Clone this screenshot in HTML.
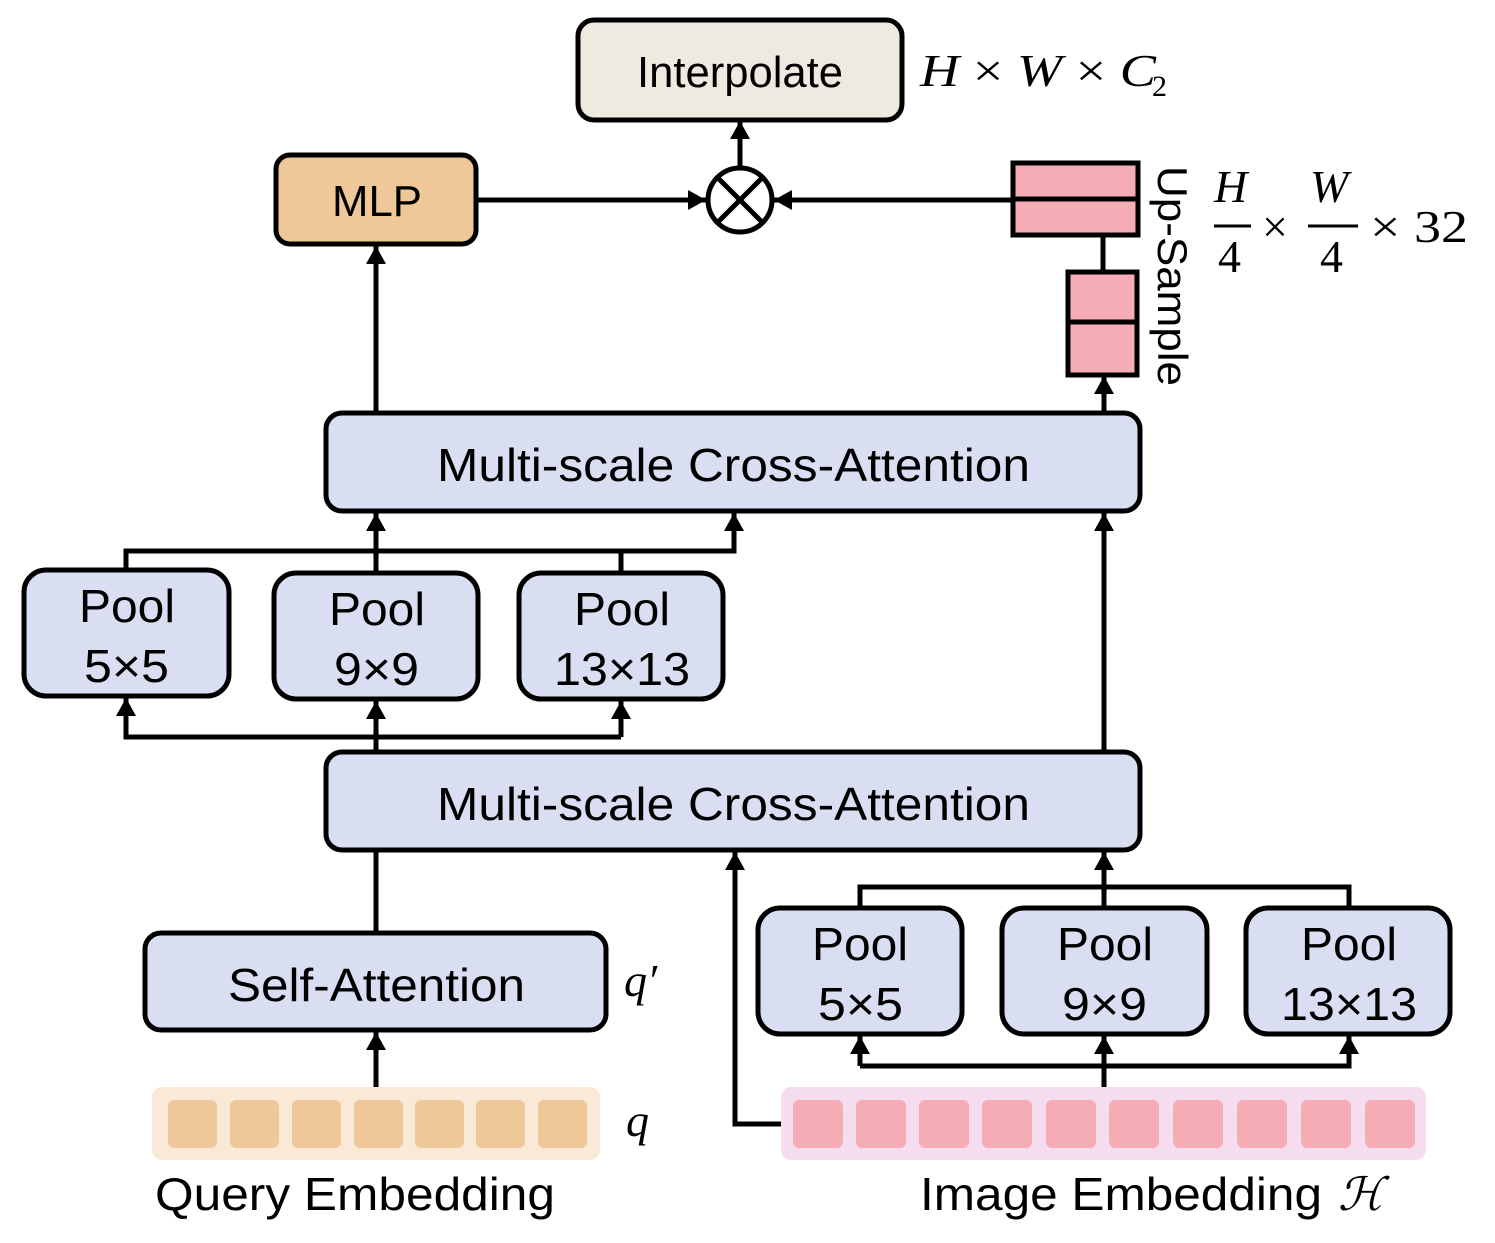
<!DOCTYPE html>
<html><head><style>body{margin:0;background:#fff}</style></head><body>
<svg width="1495" height="1238" viewBox="0 0 1495 1238" xmlns="http://www.w3.org/2000/svg" font-family="Liberation Sans, sans-serif">
<defs>
<marker id="b" viewBox="0 0 10 10" refX="10" refY="5" markerWidth="18" markerHeight="20" markerUnits="userSpaceOnUse" orient="auto" preserveAspectRatio="none"><path d="M0,0L10,5L0,10z" fill="#000"/></marker></defs>
<g stroke="#000" stroke-width="5" fill="none">
<path d="M740,168V121" marker-end="url(#b)"/>
<path d="M476,200H706" marker-end="url(#b)"/>
<path d="M1012,200H774" marker-end="url(#b)"/>
<path d="M1103,235V272"/>
<path d="M1104,413V376" marker-end="url(#b)"/>
<path d="M376,413V246" marker-end="url(#b)"/>
<path d="M126,570V551H734V513" marker-end="url(#b)"/>
<path d="M621,573V551"/>
<path d="M376,573V513" marker-end="url(#b)"/>
<path d="M621,737H126V698" marker-end="url(#b)"/>
<path d="M621,737V701" marker-end="url(#b)"/>
<path d="M376,752V701" marker-end="url(#b)"/>
<path d="M1104,752V513" marker-end="url(#b)"/>
<path d="M860,908V887H1349V908"/>
<path d="M1104,908V852" marker-end="url(#b)"/>
<path d="M860,1066H1349V1036" marker-end="url(#b)"/>
<path d="M860,1066V1036" marker-end="url(#b)"/>
<path d="M1104,1087V1036" marker-end="url(#b)"/>
<path d="M376,850V933"/>
<path d="M376,1087V1032" marker-end="url(#b)"/>
<path d="M781,1124H735V852" marker-end="url(#b)"/>
</g>
<g stroke="#000" stroke-width="5">
<rect x="578" y="20" width="324" height="100" rx="16" fill="#eeeadf"/>
<rect x="276" y="155" width="200" height="89" rx="14" fill="#efc89a"/>
<ellipse cx="740" cy="200" rx="32" ry="32" fill="#fff"/>
<path d="M717,177L763,223M763,177L717,223"/>
<rect x="1013" y="163" width="125" height="72" fill="#f6acb5"/>
<path d="M1013,199H1138"/>
<rect x="1068" y="272" width="69" height="103" fill="#f6acb5"/>
<path d="M1068,322H1137"/>
<rect x="326" y="413" width="814" height="98" rx="16" fill="#d9def2"/>
<rect x="326" y="752" width="814" height="98" rx="16" fill="#d9def2"/>
<rect x="24" y="570" width="205" height="126" rx="22" fill="#d9def2"/>
<rect x="274" y="573" width="204" height="126" rx="22" fill="#d9def2"/>
<rect x="519" y="573" width="204" height="126" rx="22" fill="#d9def2"/>
<rect x="758" y="908" width="204" height="126" rx="22" fill="#d9def2"/>
<rect x="1002" y="908" width="205" height="126" rx="22" fill="#d9def2"/>
<rect x="1246" y="908" width="204" height="126" rx="22" fill="#d9def2"/>
<rect x="145" y="933" width="461" height="97" rx="16" fill="#d9def2"/>
</g>
<rect x="152" y="1087" width="448" height="73" rx="10" fill="#fae9d6"/>
<g fill="#efc89a">
<rect x="168" y="1100" width="49" height="48" rx="6"/><rect x="230" y="1100" width="49" height="48" rx="6"/><rect x="292" y="1100" width="49" height="48" rx="6"/><rect x="354" y="1100" width="49" height="48" rx="6"/><rect x="415" y="1100" width="49" height="48" rx="6"/><rect x="476" y="1100" width="49" height="48" rx="6"/><rect x="538" y="1100" width="49" height="48" rx="6"/>
</g>
<rect x="781" y="1087" width="645" height="73" rx="10" fill="#f5dcee"/>
<g fill="#f6acb5">
<rect x="793" y="1100" width="50" height="48" rx="6"/><rect x="856" y="1100" width="50" height="48" rx="6"/><rect x="919" y="1100" width="50" height="48" rx="6"/><rect x="982" y="1100" width="50" height="48" rx="6"/><rect x="1046" y="1100" width="50" height="48" rx="6"/><rect x="1109" y="1100" width="50" height="48" rx="6"/><rect x="1173" y="1100" width="50" height="48" rx="6"/><rect x="1237" y="1100" width="50" height="48" rx="6"/><rect x="1301" y="1100" width="50" height="48" rx="6"/><rect x="1365" y="1100" width="50" height="48" rx="6"/>
</g>
<g font-size="46" fill="#000" lengthAdjust="spacingAndGlyphs">
<text x="637" y="87" font-size="44" textLength="206" lengthAdjust="spacingAndGlyphs">Interpolate</text>
<text x="332" y="216" font-size="44" textLength="90" lengthAdjust="spacingAndGlyphs">MLP</text>
<text x="437" y="481" textLength="593" lengthAdjust="spacingAndGlyphs">Multi-scale Cross-Attention</text>
<text x="437" y="820" textLength="593" lengthAdjust="spacingAndGlyphs">Multi-scale Cross-Attention</text>
<text x="228" y="1001" textLength="297" lengthAdjust="spacingAndGlyphs">Self-Attention</text>
<text x="79" y="622" textLength="96" lengthAdjust="spacingAndGlyphs">Pool</text><text x="84" y="682" textLength="85" lengthAdjust="spacingAndGlyphs">5×5</text>
<text x="329" y="625" textLength="96" lengthAdjust="spacingAndGlyphs">Pool</text><text x="334" y="685" textLength="85" lengthAdjust="spacingAndGlyphs">9×9</text>
<text x="574" y="625" textLength="96" lengthAdjust="spacingAndGlyphs">Pool</text><text x="554" y="685" textLength="136" lengthAdjust="spacingAndGlyphs">13×13</text>
<text x="812" y="960" textLength="96" lengthAdjust="spacingAndGlyphs">Pool</text><text x="818" y="1020" textLength="85" lengthAdjust="spacingAndGlyphs">5×5</text>
<text x="1057" y="960" textLength="96" lengthAdjust="spacingAndGlyphs">Pool</text><text x="1062" y="1020" textLength="85" lengthAdjust="spacingAndGlyphs">9×9</text>
<text x="1301" y="960" textLength="96" lengthAdjust="spacingAndGlyphs">Pool</text><text x="1281" y="1020" textLength="136" lengthAdjust="spacingAndGlyphs">13×13</text>
<text x="155" y="1210" textLength="400" lengthAdjust="spacingAndGlyphs">Query Embedding</text>
<text x="920" y="1210" textLength="402" lengthAdjust="spacingAndGlyphs">Image Embedding</text>
</g>
<text x="1338" y="1210" font-size="46" font-family="DejaVu Serif, serif" font-style="italic">ℋ</text>
<text x="1158" y="166" font-size="42" transform="rotate(90 1158 166)" textLength="220" lengthAdjust="spacingAndGlyphs">Up-Sample</text>
<g font-family="Liberation Serif, serif" font-size="46" fill="#000">
<text x="920" y="86" textLength="236" lengthAdjust="spacingAndGlyphs"><tspan font-style="italic">H</tspan> × <tspan font-style="italic">W</tspan> × <tspan font-style="italic">C</tspan></text>
<text x="1152" y="96" font-size="30">2</text>
<text x="1214" y="202" font-style="italic">H</text>
<text x="1218" y="272">4</text>
<text x="1262" y="242">×</text>
<text x="1310" y="202" font-style="italic">W</text>
<text x="1320" y="272">4</text>
<text x="1370" y="242" textLength="98" lengthAdjust="spacingAndGlyphs">× 32</text>
<text x="624" y="996" font-style="italic">q′</text>
<text x="626" y="1136" font-style="italic">q</text>
</g>
<g stroke="#000" stroke-width="3"><path d="M1214,226H1251M1308,226H1358"/></g>
</svg>
</body></html>
